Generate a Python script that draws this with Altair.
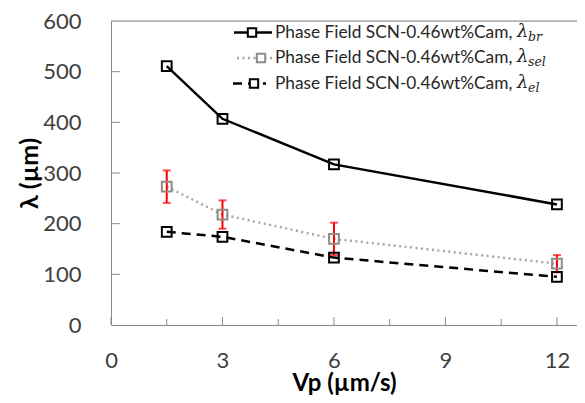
import altair as alt
import pandas as pd

# ---- data ----
vp = [1.5, 3, 6, 12]
lam_br = [511, 407, 317, 238]
lam_sel = [273, 218, 170, 121]
lam_sel_err = [32, 28, 32, 17]
lam_el = [184, 174, 133, 95]

x_major = [0, 3, 6, 9, 12]
x_minor = [1.5, 4.5, 7.5, 10.5]
y_ticks = [0, 100, 200, 300, 400, 500, 600]
y_inner_ticks = [100, 200, 300, 400, 500]

legend_text = "Phase Field SCN-0.46wt%Cam,"
legend_subs = ["br", "sel", "el"]

# ---- layout / style ----
W, H = 466, 304
FONT = "Lato"
AX = "#8a8a8a"
LBL = "#404040"

df = pd.DataFrame({"vp": vp, "br": lam_br, "sel": lam_sel, "err": lam_sel_err, "el": lam_el})
df["lo"] = df["sel"] - df["err"]
df["hi"] = df["sel"] + df["err"]

xs = alt.Scale(domain=[0, 12.54], nice=False, zero=False)
ys = alt.Scale(domain=[0, 600], nice=False)

X_AXIS = alt.Axis(values=x_major, title="Vp (µm/s)", ticks=False, grid=False, labelFlush=False,
                  domainColor=AX, labelFont=FONT, labelFontSize=22, labelColor=LBL,
                  labelPadding=25, titleFont=FONT, titleFontSize=24, titleFontWeight="bold",
                  titleColor="#000000", titlePadding=0)
Y_AXIS = alt.Axis(values=y_ticks, title="λ (µm)", ticks=False, grid=False, format="d",
                  domainColor=AX, labelFont=FONT, labelFontSize=22, labelColor=LBL,
                  labelPadding=30, titleFont=FONT, titleFontSize=25, titleFontWeight="bold",
                  titleColor="#000000", titlePadding=0)


def X(field):
    return alt.X(field, scale=xs, axis=X_AXIS)


def Y(field):
    return alt.Y(field, scale=ys, axis=Y_AXIS)


base = alt.Chart(df)

line_br = base.mark_line(color="#000000", strokeWidth=2.5).encode(x=X("vp:Q"), y=Y("br:Q"))
line_sel = base.mark_line(color="#a6a6a6", strokeWidth=2.5, strokeDash=[2, 3.5]).encode(x=X("vp:Q"), y=Y("sel:Q"))
line_el = base.mark_line(color="#000000", strokeWidth=2.5, strokeDash=[9, 6]).encode(x=X("vp:Q"), y=Y("el:Q"))

err_rule = base.mark_rule(color="#ff0000", strokeWidth=2).encode(x=X("vp:Q"), y=Y("lo:Q"), y2="hi:Q")
err_cap_hi = base.mark_tick(color="#ff0000", orient="horizontal", thickness=2, size=8).encode(x=X("vp:Q"), y=Y("hi:Q"))
err_cap_lo = base.mark_tick(color="#ff0000", orient="horizontal", thickness=2, size=8).encode(x=X("vp:Q"), y=Y("lo:Q"))

pt_br = base.mark_point(shape="square", filled=False, color="#000000", size=95, strokeWidth=2, opacity=1).encode(x=X("vp:Q"), y=Y("br:Q"))
pt_sel = base.mark_point(shape="square", filled=False, color="#8c8c8c", size=95, strokeWidth=2, opacity=1).encode(x=X("vp:Q"), y=Y("sel:Q"))
pt_el = base.mark_point(shape="square", filled=False, color="#000000", size=95, strokeWidth=2, opacity=1).encode(x=X("vp:Q"), y=Y("el:Q"))

# inward tick marks
tmaj = alt.Chart(pd.DataFrame({"t": x_major})).mark_rule(color=AX, strokeWidth=1).encode(
    x=X("t:Q"), y=alt.value(H), y2=alt.value(H - 8))
tmin = alt.Chart(pd.DataFrame({"t": x_minor})).mark_rule(color=AX, strokeWidth=1).encode(
    x=X("t:Q"), y=alt.value(H), y2=alt.value(H - 6))
ytk = alt.Chart(pd.DataFrame({"t": y_inner_ticks})).mark_rule(color=AX, strokeWidth=1).encode(
    y=Y("t:Q"), x=alt.value(0), x2=alt.value(9))

one = pd.DataFrame({"k": [0]})
# top frame line (right side of the frame is cropped in the reference)
top_frame = alt.Chart(one).mark_rule(color=AX, strokeWidth=1).encode(
    x=alt.value(0), x2=alt.value(W), y=alt.value(0))

# manual legend (to allow the λ subscripts)
leg_rows_y = [11.5, 37, 62.5]
leg_styles = [
    dict(color="#000000", dash=None, x1=123, x2=161, mx=141),
    dict(color="#a6a6a6", dash=[2, 3.5], x1=126, x2=161, mx=150, mcolor="#8c8c8c"),
    dict(color="#000000", dash=[9, 6], x1=122, x2=155, mx=143),
]
legend_layers = []
for i, (yy, st, sub) in enumerate(zip(leg_rows_y, leg_styles, legend_subs)):
    kw = dict(color=st["color"], strokeWidth=2.5)
    if st["dash"]:
        kw["strokeDash"] = st["dash"]
    legend_layers.append(alt.Chart(one).mark_rule(**kw).encode(
        x=alt.value(st["x1"]), x2=alt.value(st["x2"]), y=alt.value(yy)))
    legend_layers.append(alt.Chart(one).mark_point(
        shape="square", filled=True, fill="#ffffff", stroke=st.get("mcolor", st["color"]),
        size=70, strokeWidth=2, opacity=1).encode(x=alt.value(st["mx"]), y=alt.value(yy)))
    legend_layers.append(alt.Chart(one).mark_text(
        text=legend_text, font=FONT, fontSize=17.3, color="#262626", align="left", baseline="middle").encode(
        x=alt.value(164), y=alt.value(yy)))
    legend_layers.append(alt.Chart(one).mark_text(
        text="λ", font="DejaVu Serif", fontStyle="italic", fontSize=18, color="#262626", align="left",
        baseline="middle").encode(x=alt.value(406), y=alt.value(yy - 1)))
    legend_layers.append(alt.Chart(one).mark_text(
        text=sub, font="DejaVu Serif", fontStyle="italic", fontSize=12.5, color="#262626", align="left",
        baseline="middle").encode(x=alt.value(417), y=alt.value(yy + 4)))

chart = alt.layer(
    line_br, line_sel, line_el, err_rule, err_cap_hi, err_cap_lo, pt_sel, pt_br, pt_el,
    tmaj, tmin, ytk, top_frame, *legend_layers
).properties(
    width=W, height=H,
    autosize=alt.AutoSizeParams(type="none"),
    padding={"left": 103, "top": 13, "right": 0, "bottom": 72},
).configure_view(strokeWidth=0).configure(background="#ffffff")

chart.save("out.html", embed_options={"renderer": "svg", "actions": False})
